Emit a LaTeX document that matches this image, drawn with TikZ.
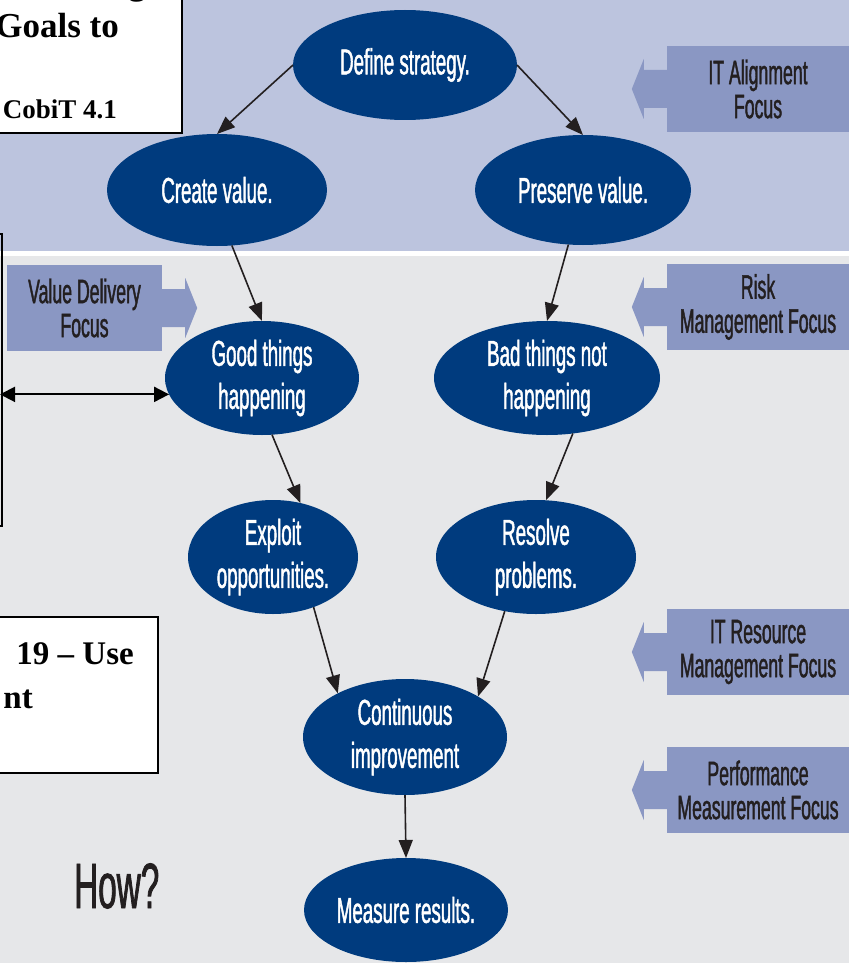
\documentclass[tikz,border=0pt]{standalone}
\usepackage{fontspec}
\setmainfont{Liberation Serif}
\newfontfamily\cond[FakeStretch=0.52,FakeBold=1.2]{Liberation Sans}
\usetikzlibrary{shapes.geometric,arrows.meta}

\definecolor{bandtop}{HTML}{BCC4DE}
\definecolor{bandlow}{HTML}{E6E7E9}
\definecolor{navy}{HTML}{003B7E}
\definecolor{focusfill}{HTML}{8A97C3}
\definecolor{ink}{HTML}{231F20}

\tikzset{
  goal/.style={ellipse, fill=navy, text=white, inner sep=0pt, outer sep=0pt,
    align=center, font=\cond\fontsize{36}{43}\selectfont},
  focus/.style={rectangle, fill=focusfill, text=ink, inner sep=0pt,
    minimum width=182pt, minimum height=86pt, align=center,
    font=\cond\fontsize{34}{34}\selectfont},
  flow/.style={draw=ink, line width=1.6pt, -{Triangle[length=18pt,width=14pt]}},
  twoway/.style={draw=black, line width=2pt,
    {Triangle[length=15pt,width=15pt]}-{Triangle[length=15pt,width=15pt]}},
  note/.style={draw=black, line width=1.5pt, fill=white},
  notetext/.style={text=black, inner sep=0pt, anchor=base east},
}

\begin{document}
\begin{tikzpicture}[x=1pt,y=-1pt]
\useasboundingbox (0,0) rectangle (849,963);
\clip (0,0) rectangle (849,963);

% background bands
\fill[bandlow] (0,0) rectangle (849,963);
\fill[bandtop] (0,0) rectangle (849,251);
\fill[white] (0,251) rectangle (849,256);

% goal ellipses
\node[goal, minimum width=224pt, minimum height=110pt] (def) at (405,65) {Define strategy.};
\node[goal, minimum width=220pt, minimum height=112pt] (cre) at (217,190) {Create value.};
\node[goal, minimum width=216pt, minimum height=110pt] (pre) at (583,190) {Preserve value.};
\node[goal, minimum width=194pt, minimum height=114pt] (good) at (262,378) {Good things\\happening};
\node[goal, minimum width=226pt, minimum height=114pt] (bad) at (547,378) {Bad things not\\happening};
\node[goal, minimum width=170pt, minimum height=114pt] (exp) at (273,557) {Exploit\\opportunities.};
\node[goal, minimum width=200pt, minimum height=114pt] (res) at (536,557) {Resolve\\problems.};
\node[goal, minimum width=204pt, minimum height=116pt] (cont) at (405,737) {Continuous\\improvement};
\node[goal, minimum width=204pt, minimum height=104pt] (meas) at (406,910) {Measure results.};

% flow connectors
\draw[flow] (def.west) -- (cre.north);
\draw[flow] (def.east) -- (pre.north);
\draw[flow] (cre.-75) -- (good.north);
\draw[flow] (pre.-105) -- (bad.north);
\draw[flow] (good.-80) -- (exp.63);
\draw[flow] (bad.-65) -- (res.80);
\draw[flow] (exp.-51) -- (cont.147);
\draw[flow] (res.-120) -- (cont.29);
\draw[flow] (cont.south) -- (meas.north);

% focus banners
\node[focus] (ita) at (758,89) {IT Alignment\\Focus};
\node[focus] (risk) at (758,307) {Risk\\Management Focus};
\node[focus] (itr) at (758,652) {IT Resource\\Management Focus};
\node[focus] (perf) at (758,790) {Performance\\Measurement Focus};
\node[focus, minimum width=155pt] (vd) at (84.5,308) {Value Delivery\\Focus};

\foreach \b in {ita,risk,itr,perf}{
  \fill[focusfill] (\b.west) ++(0,-19) -- ++(-23,0) -- ++(0,-11) -- ++(-12,30)
    -- ++(12,30) -- ++(0,-11) -- ++(23,0) -- cycle;
}
\fill[focusfill] (vd.east) ++(0,-19) -- ++(23,0) -- ++(0,-11) -- ++(12,30)
  -- ++(-12,30) -- ++(0,-11) -- ++(-23,0) -- cycle;

% side frame and link
\draw[line width=2pt] (-30,234) rectangle (1.5,526);
\coordinate (edge) at (0,0);
\draw[twoway] (edge |- good.190) -- (good.190);

% overlaid note boxes
\draw[note] (-30,-30) rectangle (182,133);
\node[notetext, font=\bfseries\fontsize{35}{35}\selectfont] (n0) at (146,-5) {ng};
\node[notetext, font=\bfseries\fontsize{35}{35}\selectfont] (n1) at (119,38) {Goals to};
\node[notetext, font=\bfseries\fontsize{27}{27}\selectfont] (n2) at (117,118) {of CobiT 4.1};

\draw[note] (-30,617) rectangle (158,773);
\node[notetext, font=\bfseries\fontsize{33}{33}\selectfont] (n3) at (134,664) {19 – Use};
\node[notetext, font=\bfseries\fontsize{33}{33}\selectfont] (n4) at (33,708) {nt};

% question label
\node[font=\cond\fontsize{64}{64}\selectfont, text=ink, anchor=base west, inner sep=0pt] (how) at (74,908) {How?};
\end{tikzpicture}
\end{document}
